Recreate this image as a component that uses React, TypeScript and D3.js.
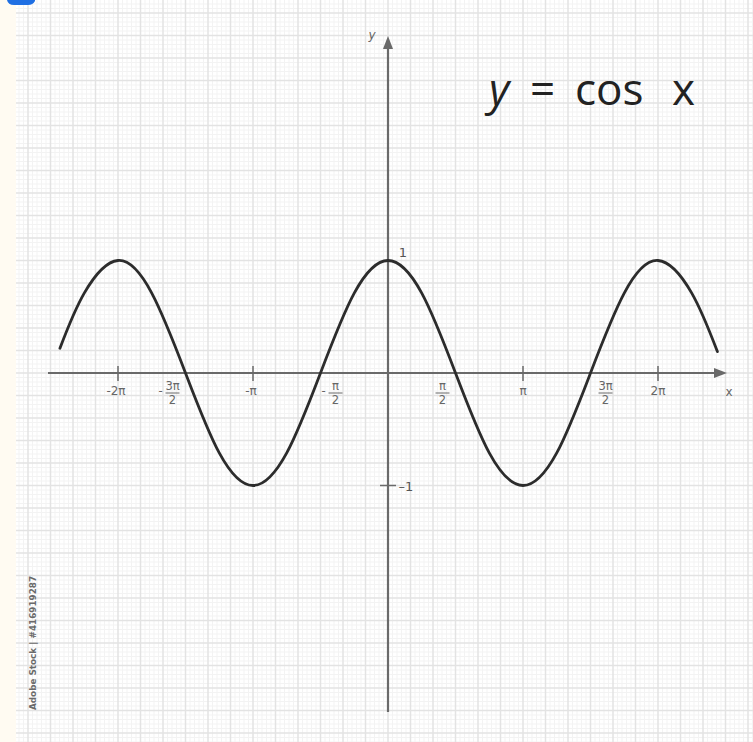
import React from "react";
import * as d3 from "d3";

const W = 753;
const H = 742;

// Sample points of the plotted curve, x in units of π
const curveX = [-2.43, -2.25, -2, -1.75, -1.5, -1.25, -1, -0.75, -0.5, -0.25, 0, 0.25, 0.5, 0.75, 1, 1.25, 1.5, 1.75, 2, 2.25, 2.44];
const curveY = [0.22, 0.71, 1, 0.71, 0, -0.71, -1, -0.71, 0, 0.71, 1, 0.71, 0, -0.71, -1, -0.71, 0, 0.71, 1, 0.71, 0.19];

// x-axis ticks (units of π) and their labels
const tickValues = [-2, -1.5, -1, -0.5, 0.5, 1, 1.5, 2];
const tickSign = ["-", "-", "-", "-", "", "", "", ""];
const tickNum = ["2π", "3π", "π", "π", "π", "π", "3π", "2π"];
const tickDen = ["", "2", "", "2", "2", "", "2", ""];

// y-axis labels
const yTickValues = [1, -1];
const yTickLabels = ["1", "–1"];

const title = ["y", "=", "cos", "x"];

export default function App() {
  const x = d3.scaleLinear().domain([-2, 2]).range([118, 658]);
  const y = d3.scaleLinear().domain([-1, 1]).range([485.5, 260.5]);
  const x0 = x(0);
  const y0 = y(0);

  const pts: [number, number][] = curveX.map((v, i) => [v, curveY[i]]);
  const line = d3
    .line<[number, number]>()
    .x((d) => x(d[0]))
    .y((d) => y(d[1]))
    .curve(d3.curveNatural);

  // grid paper
  const major = 22.5;
  const minor = major / 5;
  const gridLeft = 16;
  const vMinor: number[] = [];
  const vMajor: number[] = [];
  for (let k = -30; k <= 30; k++) {
    const px = x0 + k * major;
    if (px >= gridLeft && px <= W) vMajor.push(px);
    for (let j = 1; j < 5; j++) {
      const pm = px + j * minor;
      if (pm >= gridLeft && pm <= W) vMinor.push(pm);
    }
  }
  const hMinor: number[] = [];
  const hMajor: number[] = [];
  for (let k = -30; k <= 30; k++) {
    const py = y0 + k * major;
    if (py >= 0 && py <= H) hMajor.push(py);
    for (let j = 1; j < 5; j++) {
      const pm = py + j * minor;
      if (pm >= 0 && pm <= H) hMinor.push(pm);
    }
  }

  // labels at half multiples sit beside the curve crossing
  const halfShift = (v: number) => {
    if (Number.isInteger(v)) return 0;
    const slopeUp = Math.sign(-Math.sin(v * Math.PI)) > 0;
    return slopeUp ? 15 : -13;
  };

  const labelFont = "'DejaVu Sans', sans-serif";
  const labelColor = "#666";

  return (
    <svg width={W} height={H} viewBox={`0 0 ${W} ${H}`} style={{ display: "block", position: "absolute", left: 0, top: 0 }}>
      <rect x={0} y={0} width={W} height={H} fill="#fffbf2" />
      <rect x={gridLeft} y={0} width={W - gridLeft} height={H} fill="#ffffff" />
      <g stroke="#f3f3f3" strokeWidth={1}>
        {vMinor.map((p, i) => (
          <line key={"vm" + i} x1={p} x2={p} y1={0} y2={H} />
        ))}
        {hMinor.map((p, i) => (
          <line key={"hm" + i} x1={gridLeft} x2={W} y1={p} y2={p} />
        ))}
      </g>
      <g stroke="#e3e3e3" strokeWidth={1.5}>
        {vMajor.map((p, i) => (
          <line key={"vM" + i} x1={p} x2={p} y1={0} y2={H} />
        ))}
        {hMajor.map((p, i) => (
          <line key={"hM" + i} x1={gridLeft} x2={W} y1={p} y2={p} />
        ))}
      </g>

      <path d="M7,0 L35,0 L35,1 Q33,5 28,5 L14,5 Q8,5 7,0 Z" fill="#1f6fe3" />

      {/* axes */}
      <g stroke="#6a6a6a" strokeWidth={2.2} fill="none">
        <line x1={48} x2={720} y1={y0} y2={y0} />
        <line x1={x0} x2={x0} y1={44} y2={712} />
      </g>
      <path d={`M${727},${y0} L${714},${y0 - 5} L${714},${y0 + 5} Z`} fill="#6a6a6a" />
      <path d={`M${x0},${36} L${x0 - 5},${49} L${x0 + 5},${49} Z`} fill="#6a6a6a" />
      <text x={372} y={39} fontFamily={labelFont} fontSize={12} fontStyle="italic" fill={labelColor} textAnchor="middle">y</text>
      <text x={729} y={396} fontFamily={labelFont} fontSize={12} fill={labelColor} textAnchor="middle">x</text>

      {/* x ticks */}
      {tickValues.map((v, i) =>
        Number.isInteger(v) ? (
          <line key={"t" + i} x1={x(v)} x2={x(v)} y1={y0 - 7} y2={y0 + 8} stroke="#6a6a6a" strokeWidth={1.5} />
        ) : null
      )}
      {tickValues.map((v, i) => {
        const cx = x(v) + halfShift(v);
        if (tickDen[i] === "") {
          return (
            <text key={"l" + i} x={cx - (tickSign[i] ? 2 : 0)} y={y0 + 22} fontFamily={labelFont} fontSize={12} fill={labelColor} textAnchor="middle">
              {tickSign[i]}
              {tickNum[i]}
            </text>
          );
        }
        return (
          <g key={"l" + i} fontFamily={labelFont} fontSize={11.5} fill={labelColor} textAnchor="middle">
            {tickSign[i] ? <text x={cx - 12} y={y0 + 22}>-</text> : null}
            <text x={cx} y={y0 + 17}>{tickNum[i]}</text>
            <line x1={cx - 7} x2={cx + 7} y1={y0 + 20} y2={y0 + 20} stroke={labelColor} strokeWidth={1} />
            <text x={cx} y={y0 + 31}>{tickDen[i]}</text>
          </g>
        );
      })}

      {/* y ticks */}
      <line x1={x0 - 8} x2={x0 + 8} y1={y(-1)} y2={y(-1)} stroke="#6a6a6a" strokeWidth={1.5} />
      {yTickValues.map((v, i) => (
        <text key={"y" + i} x={v > 0 ? x0 + 15 : x0 + 18} y={y(v) + (v > 0 ? -4 : 5)} fontFamily={labelFont} fontSize={13} fill="#555" textAnchor="middle">
          {yTickLabels[i]}
        </text>
      ))}

      {/* curve */}
      <path d={line(pts) ?? ""} fill="none" stroke="#2c2c2c" strokeWidth={2.8} strokeLinecap="round" />

      {/* title */}
      <g fontFamily="'Open Sans', sans-serif" fontSize={44} fill="#222">
        <text x={489} y={105} fontStyle="italic">{title[0]}</text>
        <text x={530} y={105}>{title[1]}</text>
        <text x={575} y={105}>{title[2]}</text>
        <text x={672} y={105}>{title[3]}</text>
      </g>

      {/* credit line */}
      <text
        transform="translate(36,643) rotate(-90)"
        fontFamily="'DejaVu Sans', sans-serif"
        fontSize={9.5}
        fontWeight="bold"
        fill="#6a6a6a"
        textAnchor="middle"
        textLength={134}
        lengthAdjust="spacingAndGlyphs"
      >
        Adobe Stock | #416919287
      </text>
    </svg>
  );
}
